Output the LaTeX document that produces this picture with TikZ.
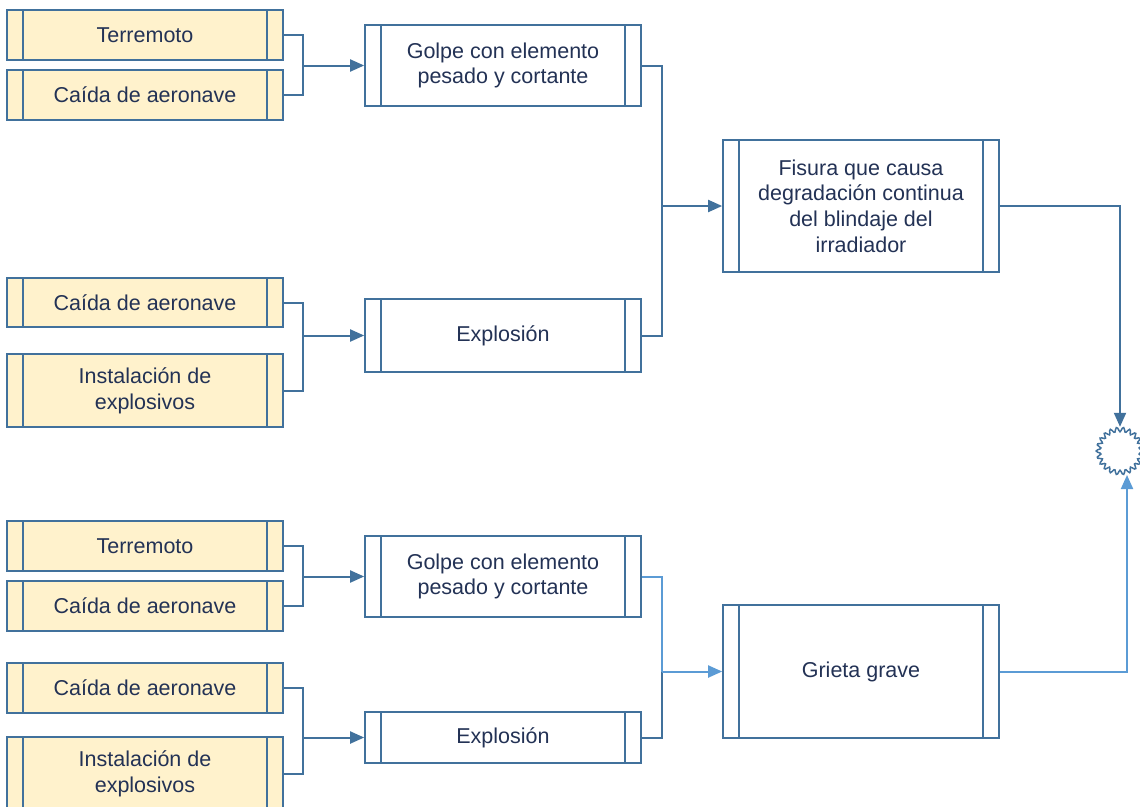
\documentclass[tikz,border=0pt]{standalone}
\usepackage{fontspec}
\setmainfont{Liberation Sans}
\usetikzlibrary{arrows.meta}
\definecolor{edge}{HTML}{41719C}
\definecolor{lightedge}{HTML}{5B9BD5}
\definecolor{causefill}{HTML}{FFF2CC}
\definecolor{ink}{RGB}{35,50,85}
\begin{document}
\begin{tikzpicture}[x=1pt,y=-1pt,
  box/.style={draw=edge, line width=1.7pt, minimum width=276pt, align=center,
    text=ink, font=\fontsize{21.5}{25.7}\selectfont, inner sep=0pt,
    path picture={\draw[edge,line width=1.7pt]
      ([xshift=16pt]path picture bounding box.north west) -- ([xshift=16pt]path picture bounding box.south west)
      ([xshift=-16pt]path picture bounding box.north east) -- ([xshift=-16pt]path picture bounding box.south east);}},
  causebox/.style={box, fill=causefill},
  eventbox/.style={box, fill=white},
  link/.style={draw=edge, line width=2pt},
  lightlink/.style={draw=lightedge, line width=2pt},
  tip/.style={-{Triangle[length=14pt,width=12pt]}}
]
\useasboundingbox (0,0) rectangle (1140,806);

% upper branch: causes
\node[causebox, minimum height=50pt] (t1) at (145,35) {Terremoto};
\node[causebox, minimum height=50pt] (t2) at (145,95) {Caída de aeronave};
\node[causebox, minimum height=49pt] (t3) at (145,302.5) {Caída de aeronave};
\node[causebox, minimum height=73pt] (t4) at (145,390.5) {Instalación de\\explosivos};
% upper branch: intermediate events
\node[eventbox, minimum height=81pt] (g1) at (503,65.5) {Golpe con elemento\\pesado y cortante};
\node[eventbox, minimum height=73pt] (e1) at (503,335.5) {Explosión};
\node[eventbox, minimum height=132pt] (f) at (861,206) {Fisura que causa\\degradación continua\\del blindaje del\\irradiador};

% lower branch: causes
\node[causebox, minimum height=50pt] (b1) at (145,546) {Terremoto};
\node[causebox, minimum height=50pt] (b2) at (145,606) {Caída de aeronave};
\node[causebox, minimum height=50pt] (b3) at (145,688) {Caída de aeronave};
\node[causebox, minimum height=73pt] (b4) at (145,773.5) {Instalación de\\explosivos};
% lower branch: intermediate events
\node[eventbox, minimum height=81pt] (g2) at (503,576.5) {Golpe con elemento\\pesado y cortante};
\node[eventbox, minimum height=51pt] (e2) at (503,737.5) {Explosión};
\node[eventbox, minimum height=133pt] (gr) at (861,671.5) {Grieta grave};

% final event: wavy circle
\node[circle, minimum size=48pt, inner sep=0pt] (star) at (1120,451) {};
\draw[edge, line width=1.5pt] plot[domain=0:357, samples=120]
  ({1120+(21.5+2.3*cos(22*\x))*cos(\x)}, {451+(21.5+2.3*cos(22*\x))*sin(\x)}) -- cycle;
\coordinate (starlow) at (1127,475);

% junction points
\coordinate (j1) at (303,65.5);
\coordinate (j2) at (303,335.5);
\coordinate (j3) at (662,206);
\coordinate (j4) at (303,576.5);
\coordinate (j5) at (303,737.5);
\coordinate (j6) at (662,671.5);

% upper connectors
\draw[link] (t1.east) -| (j1);
\draw[link] (t2.east) -| (j1);
\draw[link, tip] (j1) -- (g1.west);
\draw[link] (t3.east) -| (j2);
\draw[link] (t4.east) -| (j2);
\draw[link, tip] (j2) -- (e1.west);
\draw[link] (g1.east) -| (j3);
\draw[link] (e1.east) -| (j3);
\draw[link, tip] (j3) -- (f.west);
\draw[link, tip] (f.east) -| (star.north);

% lower connectors
\draw[link] (b1.east) -| (j4);
\draw[link] (b2.east) -| (j4);
\draw[link, tip] (j4) -- (g2.west);
\draw[link] (b3.east) -| (j5);
\draw[link] (b4.east) -| (j5);
\draw[link, tip] (j5) -- (e2.west);
\draw[lightlink] (g2.east) -| (j6);
\draw[link] (e2.east) -| (j6);
\draw[lightlink, tip] (j6) -- (gr.west);
\draw[lightlink, tip] (gr.east) -| (starlow);
\end{tikzpicture}
\end{document}
